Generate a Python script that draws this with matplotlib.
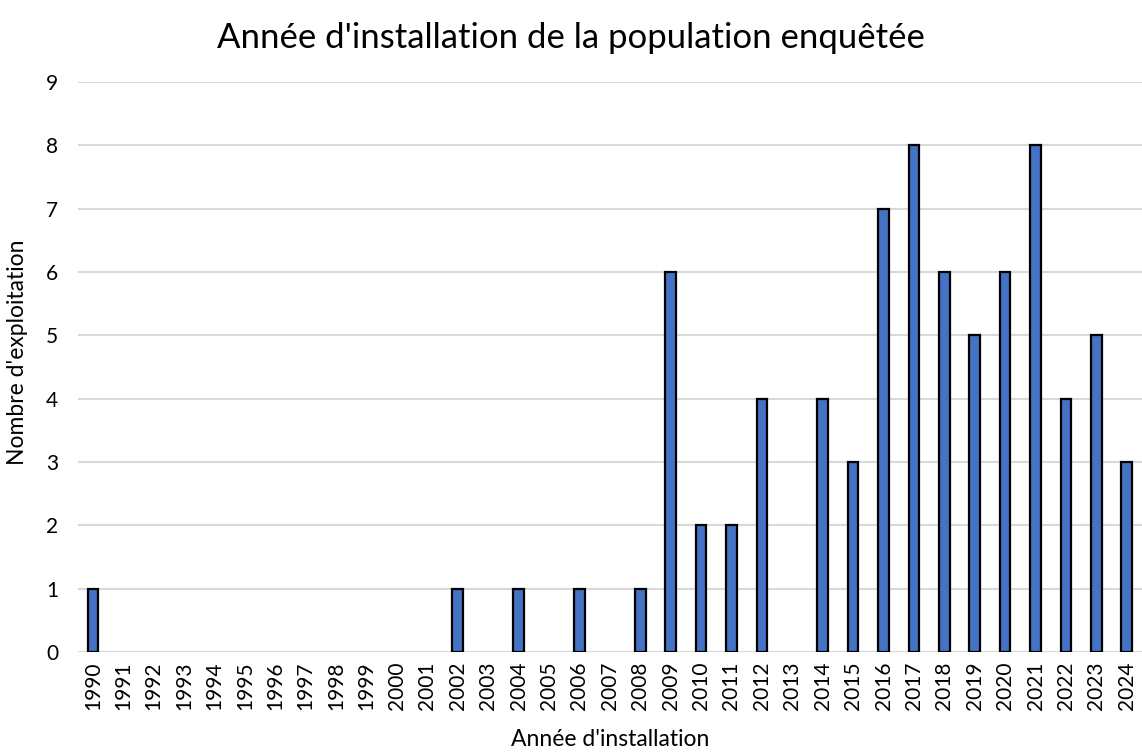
import matplotlib
matplotlib.use("Agg")
import matplotlib.pyplot as plt

years = [str(y) for y in range(1990, 2025)]
counts = [1, 0, 0, 0, 0, 0, 0, 0, 0, 0, 0, 0, 1, 0, 1, 0, 1, 0, 1, 6,
          2, 2, 4, 0, 4, 3, 7, 8, 6, 5, 6, 8, 4, 5, 3]

plt.rcParams['font.family'] = ['Lato', 'DejaVu Sans']

fig = plt.figure(figsize=(11.42, 7.53), dpi=100)
ax = fig.add_axes([0.068, 0.134, 0.932, 0.757])

pos = [i for i, c in enumerate(counts) if c > 0]
vals = [c for c in counts if c > 0]
ax.bar(pos, vals, width=0.35, color='#4472C4', edgecolor='black', linewidth=1.6, zorder=3)

ax.set_xlim(-0.5, len(years) - 0.5)
ax.set_ylim(0, 9)
ax.set_yticks(range(0, 10))
ax.set_xticks(range(len(years)))
ax.set_xticklabels(years, rotation=90, fontsize=15)
ax.tick_params(axis='y', labelsize=15, length=0, pad=14)
ax.tick_params(axis='x', length=0, pad=7)
ax.grid(axis='y', color='#d9d9d9', linewidth=1.5, zorder=0)
for s in ax.spines.values():
    s.set_visible(False)

fig.text(0.534, 1 - 740 / 753, "Année d'installation", fontsize=16.5, ha='center', va='center')
fig.text(18 / 1142, 1 - 352 / 753, "Nombre d'exploitation", fontsize=16.5, ha='center', va='center', rotation=90)
fig.text(0.5, 1 - 38 / 753, "Année d'installation de la population enquêtée", fontsize=25, ha='center', va='center')

fig.savefig("out.png", dpi=100)
